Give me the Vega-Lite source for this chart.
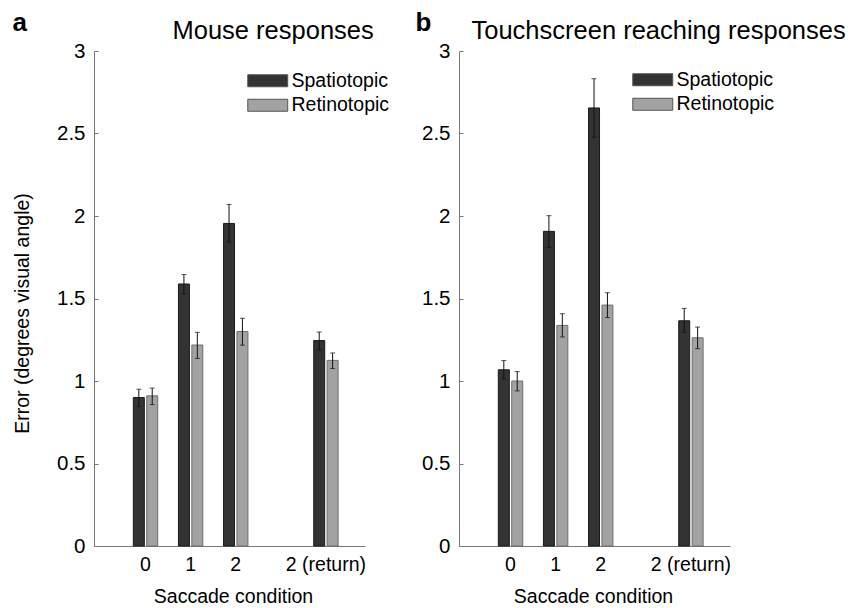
{
  "$schema": "https://vega.github.io/schema/vega-lite/v6.json",
  "padding": {"left": 12, "top": 10, "right": 0, "bottom": 0},
  "datasets": {
    "errs": [
      {"panel": "a", "cond": "0", "type": "Spatiotopic", "value": 0.90, "lo": 0.845, "hi": 0.95},
      {"panel": "a", "cond": "0", "type": "Retinotopic", "value": 0.91, "lo": 0.857, "hi": 0.957},
      {"panel": "a", "cond": "1", "type": "Spatiotopic", "value": 1.588, "lo": 1.528, "hi": 1.645},
      {"panel": "a", "cond": "1", "type": "Retinotopic", "value": 1.218, "lo": 1.137, "hi": 1.295},
      {"panel": "a", "cond": "2", "type": "Spatiotopic", "value": 1.955, "lo": 1.842, "hi": 2.07},
      {"panel": "a", "cond": "2", "type": "Retinotopic", "value": 1.30, "lo": 1.217, "hi": 1.38},
      {"panel": "a", "cond": "2 (return)", "type": "Spatiotopic", "value": 1.245, "lo": 1.19, "hi": 1.297},
      {"panel": "a", "cond": "2 (return)", "type": "Retinotopic", "value": 1.125, "lo": 1.076, "hi": 1.17},
      {"panel": "b", "cond": "0", "type": "Spatiotopic", "value": 1.068, "lo": 1.012, "hi": 1.124},
      {"panel": "b", "cond": "0", "type": "Retinotopic", "value": 1.0, "lo": 0.94, "hi": 1.057},
      {"panel": "b", "cond": "1", "type": "Spatiotopic", "value": 1.907, "lo": 1.81, "hi": 2.002},
      {"panel": "b", "cond": "1", "type": "Retinotopic", "value": 1.337, "lo": 1.267, "hi": 1.408},
      {"panel": "b", "cond": "2", "type": "Spatiotopic", "value": 2.655, "lo": 2.477, "hi": 2.832},
      {"panel": "b", "cond": "2", "type": "Retinotopic", "value": 1.46, "lo": 1.385, "hi": 1.535},
      {"panel": "b", "cond": "2 (return)", "type": "Spatiotopic", "value": 1.365, "lo": 1.295, "hi": 1.44},
      {"panel": "b", "cond": "2 (return)", "type": "Retinotopic", "value": 1.262, "lo": 1.196, "hi": 1.327}
    ]
  },
  "data": {"name": "errs"},
  "spacing": 25,
  "resolve": {"legend": {"color": "independent"}},
  "hconcat": [
    {
      "width": 271,
      "height": 495,
      "title": {"text": "a", "fontSize": 26, "fontWeight": "bold", "anchor": "start", "frame": "bounds", "offset": -18, "color": "black"},
      "transform": [{"filter": "datum.panel == 'a'"}],
      "layer": [
        {
          "mark": {"type": "bar", "strokeWidth": 1},
          "encoding": {
            "x": {"field": "cond", "type": "nominal", "title": "Saccade condition",
              "scale": {"domain": ["0", "1", "2", "gap", "2 (return)"], "paddingInner": 0.459, "paddingOuter": 0.734, "align": 0.594},
              "axis": {"orient": "bottom", "values": ["0", "1", "2", "2 (return)"], "ticks": false, "labelAngle": 0, "labelPadding": 9, "titlePadding": 14, "titleX": 139}},
            "xOffset": {"field": "type", "type": "nominal", "scale": {"domain": ["Spatiotopic", "Retinotopic"], "paddingInner": 0.18, "paddingOuter": 0}},
            "y": {"field": "value", "type": "quantitative", "scale": {"domain": [0, 3]},
              "axis": {"values": [0, 0.5, 1, 1.5, 2, 2.5, 3], "format": "~g", "tickSize": -4, "labelPadding": 13, "labelFontSize": 20.5, "title": "Error (degrees visual angle)", "titlePadding": 24, "titleY": 262, "grid": false}},
            "color": {"field": "type", "type": "nominal", "scale": {"domain": ["Spatiotopic", "Retinotopic"], "range": ["#333333", "#a2a2a2"]},
              "legend": {"orient": "none", "legendX": 164, "legendY": 20, "title": null, "symbolType": "M-3.33,-1H3.33V1H-3.33Z", "symbolSize": 144, "labelOffset": 14, "rowPadding": 3.5, "symbolStrokeColor": "#555", "symbolStrokeWidth": 1, "symbolOpacity": 1}},
            "stroke": {"field": "type", "type": "nominal", "scale": {"domain": ["Spatiotopic", "Retinotopic"], "range": ["#1a1a1a", "#6e6e6e"]}, "legend": null}
          }
        },
        {
          "mark": {"type": "errorbar", "color": "#111111", "thickness": 1, "ticks": {"size": 5, "thickness": 1, "color": "#111111"}},
          "encoding": {
            "x": {"field": "cond", "type": "nominal",
              "axis": {"orient": "top", "labels": false, "ticks": false, "domain": false, "title": "Mouse responses", "titleFontSize": 25.5, "titleX": 78, "titleY": -13, "titleAlign": "left", "titleBaseline": "alphabetic"}},
            "xOffset": {"field": "type", "type": "nominal"},
            "y": {"field": "lo", "type": "quantitative", "title": "Error (degrees visual angle)"},
            "y2": {"field": "hi"}
          }
        }
      ]
    },
    {
      "width": 271,
      "height": 495,
      "title": {"text": "b", "fontSize": 26, "fontWeight": "bold", "anchor": "start", "frame": "bounds", "offset": -18, "dx": -6, "color": "black"},
      "transform": [{"filter": "datum.panel == 'b'"}],
      "layer": [
        {
          "mark": {"type": "bar", "strokeWidth": 1},
          "encoding": {
            "x": {"field": "cond", "type": "nominal", "title": "Saccade condition",
              "scale": {"domain": ["0", "1", "2", "gap", "2 (return)"], "paddingInner": 0.459, "paddingOuter": 0.734, "align": 0.594},
              "axis": {"orient": "bottom", "values": ["0", "1", "2", "2 (return)"], "ticks": false, "labelAngle": 0, "labelPadding": 9, "titlePadding": 14, "titleX": 134}},
            "xOffset": {"field": "type", "type": "nominal", "scale": {"domain": ["Spatiotopic", "Retinotopic"], "paddingInner": 0.18, "paddingOuter": 0}},
            "y": {"field": "value", "type": "quantitative", "scale": {"domain": [0, 3]},
              "axis": {"values": [0, 0.5, 1, 1.5, 2, 2.5, 3], "format": "~g", "tickSize": -4, "labelPadding": 13, "labelFontSize": 20.5, "title": null, "grid": false}},
            "color": {"field": "type", "type": "nominal", "scale": {"domain": ["Spatiotopic", "Retinotopic"], "range": ["#333333", "#a2a2a2"]},
              "legend": {"orient": "none", "legendX": 184, "legendY": 19, "title": null, "symbolType": "M-3.33,-1H3.33V1H-3.33Z", "symbolSize": 144, "labelOffset": 14, "rowPadding": 3.5, "symbolStrokeColor": "#555", "symbolStrokeWidth": 1, "symbolOpacity": 1}},
            "stroke": {"field": "type", "type": "nominal", "scale": {"domain": ["Spatiotopic", "Retinotopic"], "range": ["#1a1a1a", "#6e6e6e"]}, "legend": null}
          }
        },
        {
          "mark": {"type": "errorbar", "color": "#111111", "thickness": 1, "ticks": {"size": 5, "thickness": 1, "color": "#111111"}},
          "encoding": {
            "x": {"field": "cond", "type": "nominal",
              "axis": {"orient": "top", "labels": false, "ticks": false, "domain": false, "title": "Touchscreen reaching responses", "titleFontSize": 25.5, "titleX": 12, "titleY": -13, "titleAlign": "left", "titleBaseline": "alphabetic"}},
            "xOffset": {"field": "type", "type": "nominal"},
            "y": {"field": "lo", "type": "quantitative", "title": null},
            "y2": {"field": "hi"}
          }
        }
      ]
    }
  ],
  "config": {
    "font": "Liberation Sans",
    "view": {"stroke": null},
    "axis": {"domainColor": "#777777", "tickColor": "#777777", "labelColor": "black", "titleColor": "black", "labelFontSize": 19.5, "titleFontSize": 19.5, "titleFontWeight": "normal"},
    "legend": {"labelFontSize": 19.5, "labelColor": "black", "padding": 0}
  }
}
